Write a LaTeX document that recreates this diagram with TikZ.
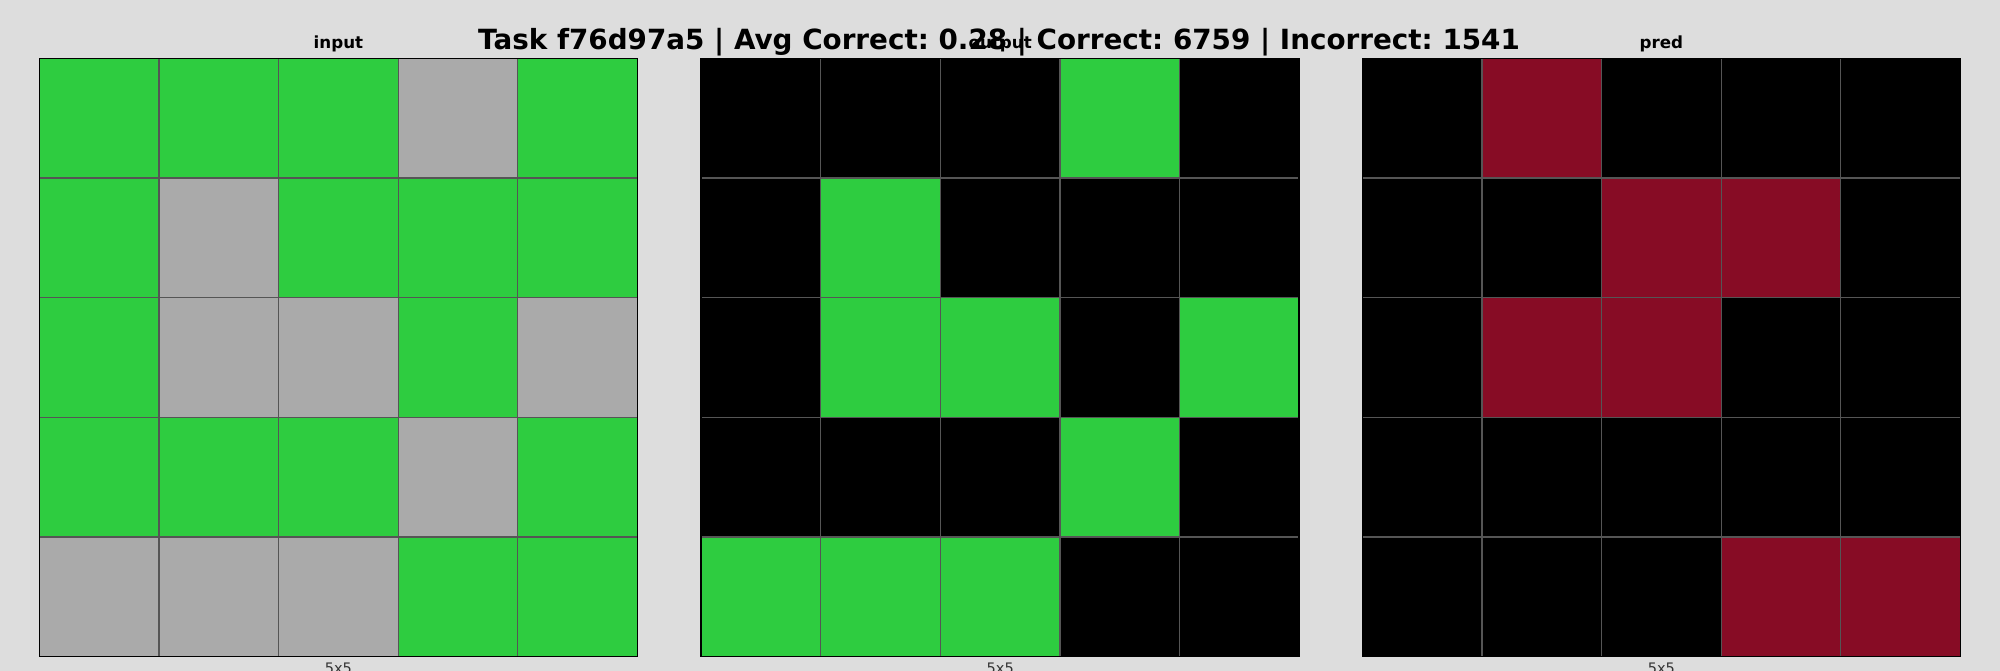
\documentclass[tikz,border=0pt]{standalone}
\usepackage{fontspec}
\setmainfont{DejaVu Sans}
\frenchspacing
\definecolor{bg}{HTML}{DDDDDD}
\definecolor{arcg}{HTML}{2ECC40}
\definecolor{arca}{HTML}{AAAAAA}
\definecolor{arcm}{HTML}{870C25}
\definecolor{arck}{HTML}{000000}
\definecolor{gline}{HTML}{555555}
\definecolor{labgray}{HTML}{333333}
\newcommand\cellsz{119.6}
\newcommand\drawgrid[2]{%
  \foreach \row [count=\r from 0] in {#2} {
    \foreach \c [count=\k from 0] in \row {
      \fill[arc\c] ({#1+\k*\cellsz},{58.5+\r*\cellsz}) rectangle ++(\cellsz,\cellsz);
    }
  }
  \foreach \i in {1,...,4} {
    \draw[gridline] ({#1+\i*\cellsz},58.5) -- ++(0,{5*\cellsz});
    \draw[gridline] (#1,{58.5+\i*\cellsz}) -- ++({5*\cellsz},0);
  }
  \draw[gridborder] (#1,58.5) rectangle ++({5*\cellsz},{5*\cellsz});
}
\tikzset{
  gridline/.style={gline, line width=1.2pt},
  gridborder/.style={black, line width=1.6pt},
  subtitle/.style={anchor=base, inner sep=0pt, font=\fontsize{16.7}{18}\selectfont\bfseries},
  maintitle/.style={anchor=base, inner sep=0pt, font=\fontsize{27.8}{30}\selectfont\bfseries},
  sizelabel/.style={anchor=base, inner sep=0pt, text=labgray, font=\fontsize{14.5}{16}\selectfont},
}
\begin{document}
\begin{tikzpicture}[x=1pt,y=-1pt]
\useasboundingbox (0,0) rectangle (2000,671);
\fill[bg] (0,0) rectangle (2000,671);
% input
\drawgrid{39.4}{{g,g,g,a,g},{g,a,g,g,g},{g,a,a,g,a},{g,g,g,a,g},{a,a,a,g,g}}
% output
\drawgrid{701.2}{{k,k,k,g,k},{k,g,k,k,k},{k,g,g,k,g},{k,k,k,g,k},{g,g,g,k,k}}
% pred
\drawgrid{1362.3}{{k,m,k,k,k},{k,k,m,m,k},{k,m,m,k,k},{k,k,k,k,k},{k,k,k,m,m}}
\node[subtitle] (tin) at (338.4,48.3) {input};
\node[subtitle] (tout) at (1000.2,48.3) {output};
\node[subtitle] (tpred) at (1661.3,48.3) {pred};
\node[maintitle] (title) at (999,49.2) {Task f76d97a5 | Avg Correct: 0.28 | Correct: 6759 | Incorrect: 1541};
\node[sizelabel] (lin) at (338.4,673.3) {5x5};
\node[sizelabel] (lout) at (1000.2,673.3) {5x5};
\node[sizelabel] (lpred) at (1661.3,673.3) {5x5};
\end{tikzpicture}
\end{document}
